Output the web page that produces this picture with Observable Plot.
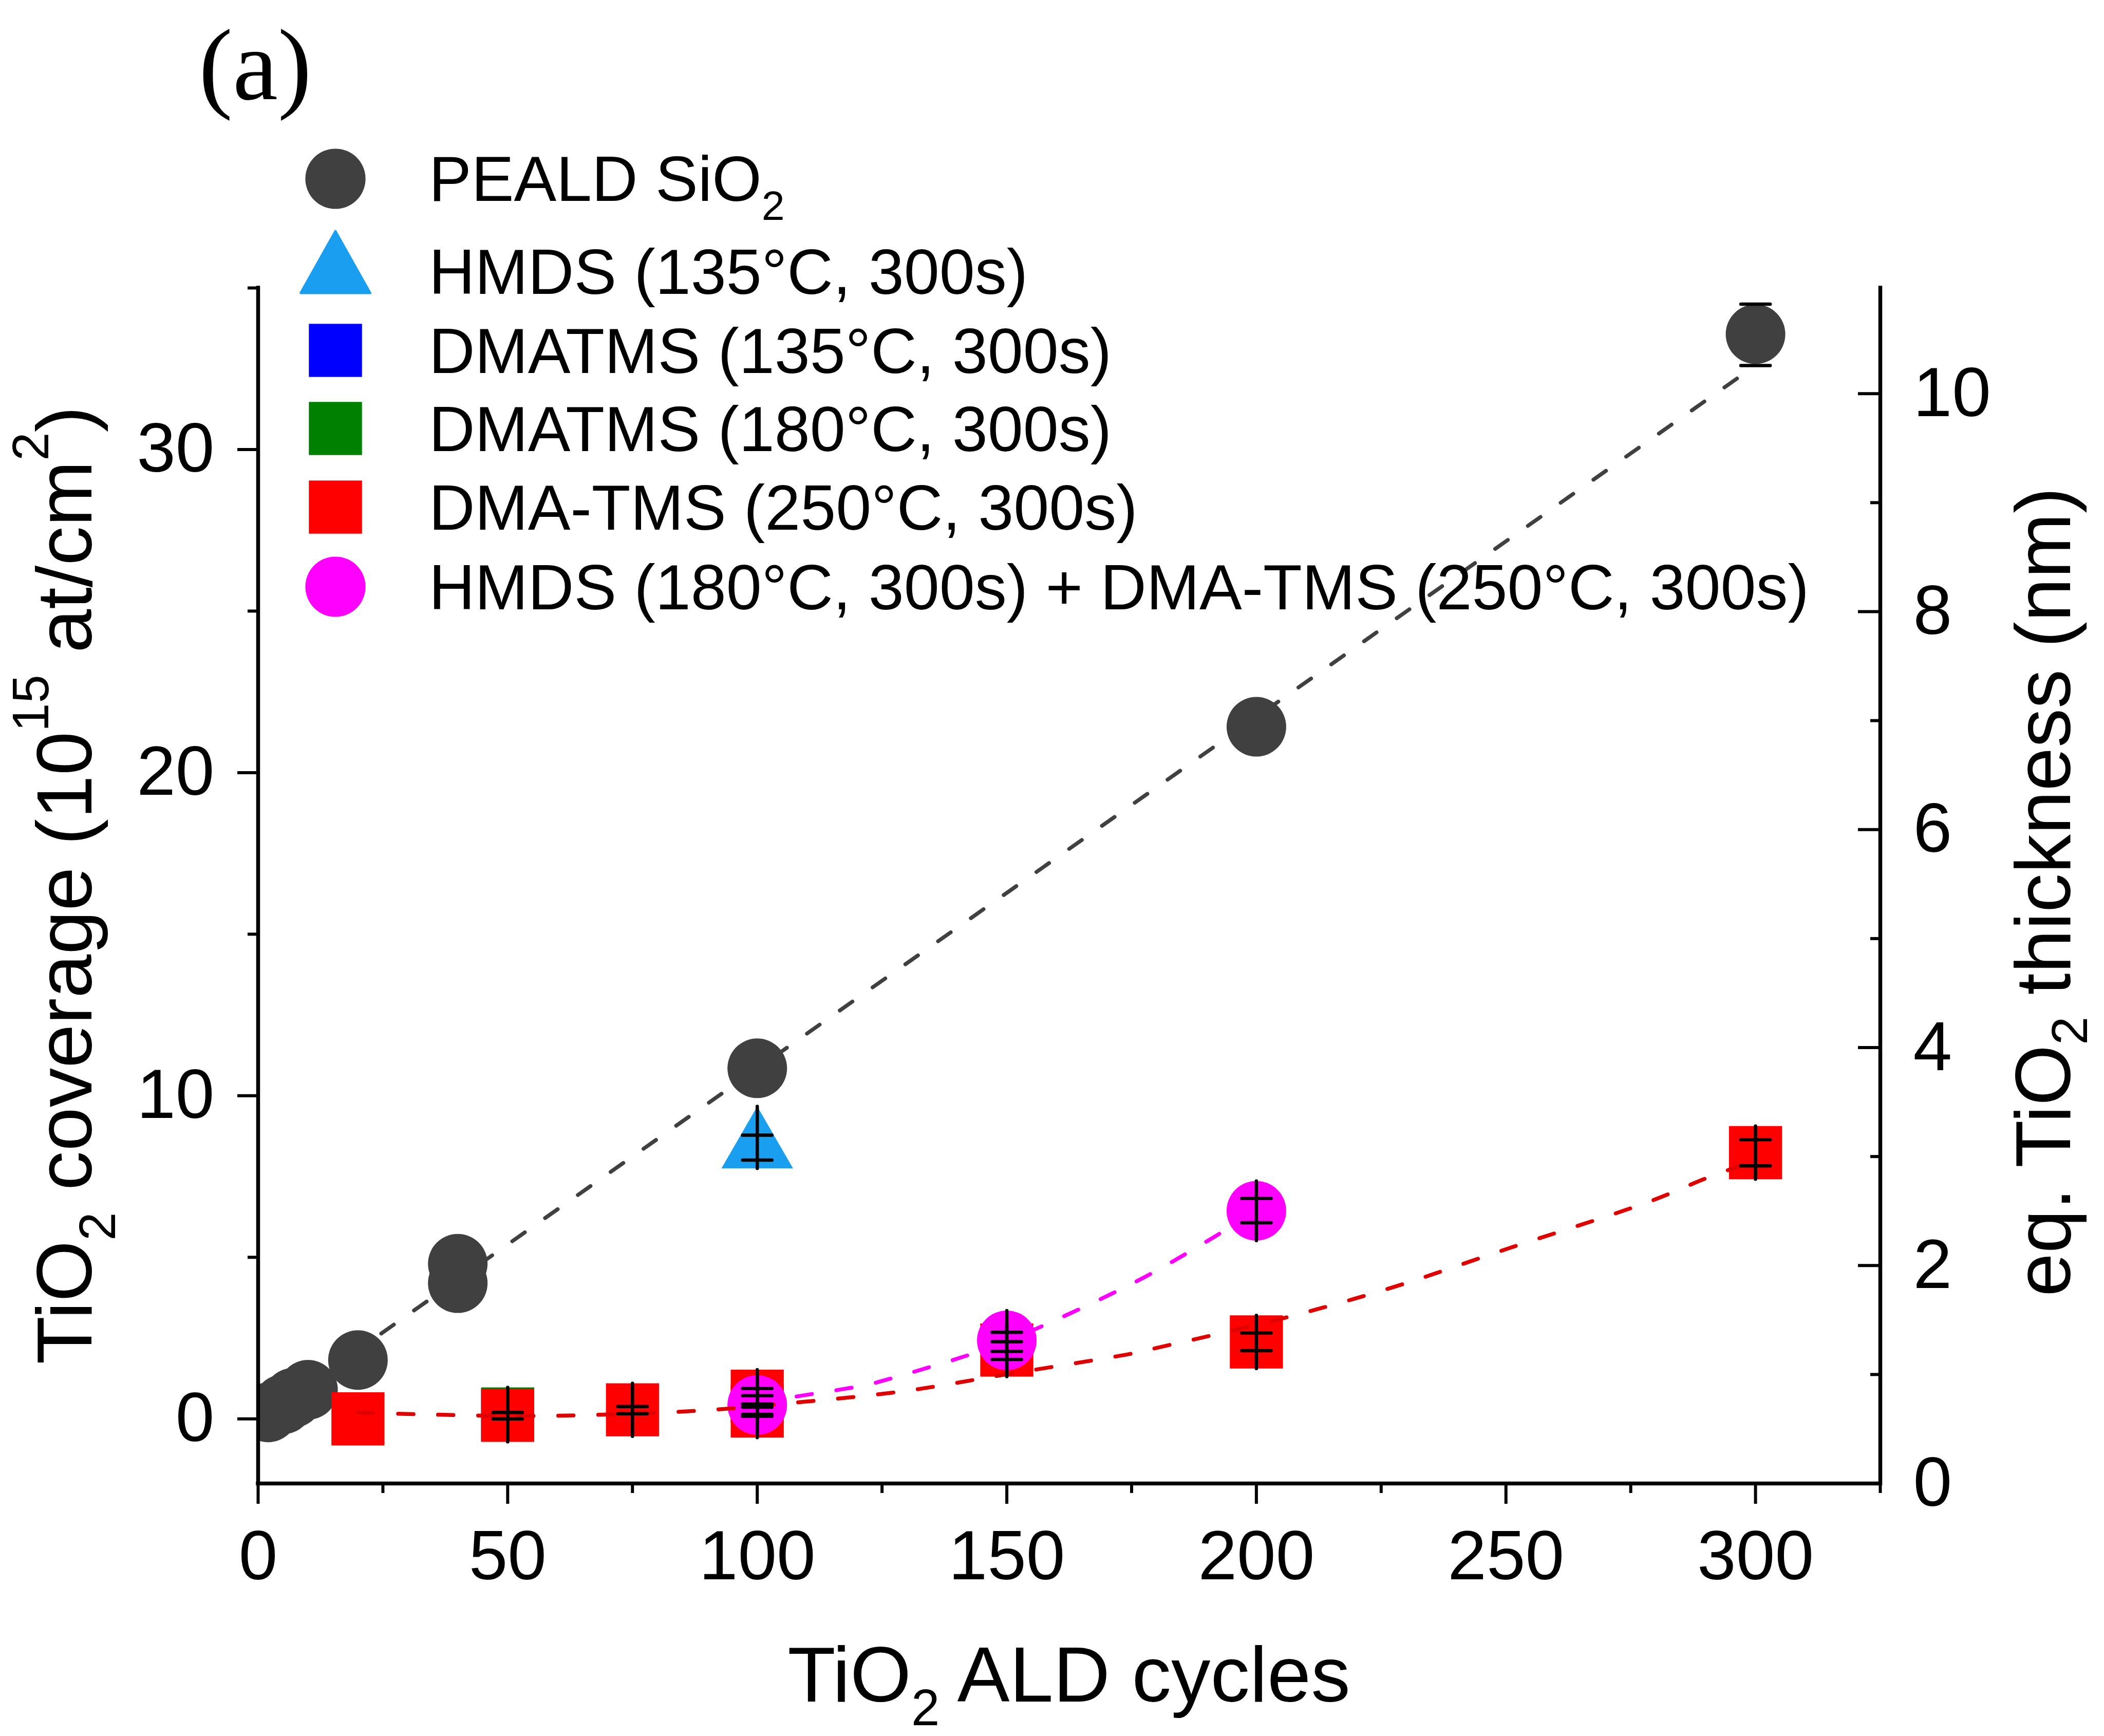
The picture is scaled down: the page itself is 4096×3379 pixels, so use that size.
<!DOCTYPE html>
<html>
<head>
<meta charset="utf-8">
<script src="https://cdn.jsdelivr.net/npm/d3@7"></script>
<script src="https://cdn.jsdelivr.net/npm/@observablehq/plot@0.6"></script>
<style>
  html, body { margin: 0; padding: 0; background: #ffffff; }
  #chart { width: 4096px; height: 3379px; overflow: hidden; }
</style>
</head>
<body>
<div id="chart"></div>
<script>
// ---------------- axes ----------------
const X_DOMAIN = [0, 325];
const Y_DOMAIN = [-2, 35];
const NM_DOMAIN = [0, 10.97];
const xMajor = [0, 50, 100, 150, 200, 250, 300];
const xMinor = [25, 75, 125, 175, 225, 275, 325];
const yMajor = [0, 10, 20, 30];
const yMinor = [5, 15, 25, 35];
const nmMajor = [0, 2, 4, 6, 8, 10];
const nmMinor = [1, 3, 5, 7, 9];

// ---------------- PEALD SiO2 (dark circles) ----------------
const pealdCycles = [2, 5, 7, 10, 20, 40, 40, 100, 200, 300];
const pealdCov    = [0.2, 0.45, 0.65, 0.9, 1.82, 4.8, 4.2, 10.85, 21.42, 33.57];
const pealdErrCycles = [300];
const pealdErrHi = [34.5];
const pealdErrLo = [32.6];
const pealdFitCycles = [5, 100, 200, 300];
const pealdFitCov    = [0.5, 10.84, 21.72, 32.6];

// ---------------- HMDS (135°C, 300s) (triangle) ----------------
const hmdsCycles = [100];
const hmdsCov    = [8.39];
const hmdsErrHi  = [8.78];
const hmdsErrLo  = [8.01];

// ---------------- DMATMS (135°C) blue / (180°C) green ----------------
const dmatms135Cycles = [50];
const dmatms135Cov    = [0.12];
const dmatms180Cycles = [50];
const dmatms180Cov    = [0.15];

// ---------------- DMA-TMS (250°C, 300s) (red squares) ----------------
const dmaCycles = [20, 50, 75, 100, 100, 150, 200, 300];
const dmaCov    = [0.0, 0.11, 0.28, 0.70, 0.24, 2.13, 2.38, 8.24];
const dmaErrHi  = [null, 0.2, 0.38, 0.94, 0.36, 2.39, 2.66, 8.64];
const dmaErrLo  = [null, 0.0, 0.16, 0.46, 0.08, 1.84, 2.11, 7.83];
const dmaFitCycles = [20, 30, 39, 50, 64, 89, 106, 129, 150, 175, 179, 205, 227.5, 250, 279, 290, 300];
const dmaFitCov    = [0.2, 0.15, 0.12, 0.09, 0.11, 0.26, 0.48, 0.85, 1.38, 2.02, 2.16, 3.1, 4.08, 5.25, 6.74, 7.44, 8.0];

// ---------------- HMDS + DMA-TMS (magenta circles) ----------------
const combCycles = [100, 150, 200];
const combCov    = [0.43, 2.43, 6.44];
const combErrHi  = [0.72, 2.68, 6.82];
const combErrLo  = [0.14, 2.09, 6.07];
const combFitCycles = [100, 107, 121.8, 126.3, 142, 150, 176.4, 192.5, 200];
const combFitCov    = [0.48, 0.67, 1.05, 1.23, 1.96, 2.4, 4.29, 5.72, 6.44];

// ---------------- legend ----------------
const legendLabels = [
  ["PEALD SiO", "2", ""],
  ["HMDS (135°C, 300s)"],
  ["DMATMS (135°C, 300s)"],
  ["DMATMS (180°C, 300s)"],
  ["DMA-TMS (250°C, 300s)"],
  ["HMDS (180°C, 300s) + DMA-TMS (250°C, 300s)"]
];
const legendShapes = ["circle", "triangle", "square", "square", "square", "circle"];
const legendColors = ["#404040", "#1a9ff0", "#0000ff", "#008000", "#ff0000", "#ff00ff"];

// ---------------- helpers ----------------
const rows = (xs, ys) => xs.map((x, i) => ({x, y: ys[i]}));
const caps = (xs, hi, lo) => xs.flatMap((x, i) => [
  hi[i] == null ? null : {x, y: hi[i]},
  lo[i] == null ? null : {x, y: lo[i]}
]).filter(d => d);
const nmToCov = d3.scaleLinear().domain(NM_DOMAIN).range(Y_DOMAIN);

const FONT = "'Liberation Sans', Arial, Helvetica, sans-serif";
const TICK_FS = 136;
const SQ_R = 58.3, CIRC_R = 58, TRI_R = 51.8, CAP_R = 32.2;

const capSymbol = {draw(ctx, size) { const w = Math.sqrt(size) / 2; ctx.moveTo(-w, 0); ctx.lineTo(w, 0); }};
const spineSquare = {draw(ctx, size) { const s = Math.sqrt(size) / 2; ctx.moveTo(0, -s); ctx.lineTo(0, s); }};
const spineCircle = {draw(ctx, size) { const r = Math.sqrt(size / Math.PI); ctx.moveTo(0, -r); ctx.lineTo(0, r); }};
const spineTriangle = {draw(ctx, size) { const y = -Math.sqrt(size / (Math.sqrt(3) * 3)); ctx.moveTo(0, 2 * y); ctx.lineTo(0, -y); }};

const dash = {strokeWidth: 7.5, strokeDasharray: "30,48", strokeLinecap: "round", curve: "catmull-rom"};
const bar = {fill: "none", stroke: "black", strokeWidth: 6.5, strokeLinecap: "round"};

const dmaErrRows = rows(dmaCycles, dmaCov).filter((d, i) => dmaErrHi[i] != null);

const plot = Plot.plot({
  width: 4096,
  height: 3379,
  marginLeft: 502,
  marginRight: 436,
  marginTop: 560,
  marginBottom: 492,
  style: {background: "#ffffff", fontFamily: FONT, overflow: "visible"},
  x: {domain: X_DOMAIN, label: null},
  y: {domain: Y_DOMAIN, label: null},
  marks: [
    // markers
    Plot.dot(rows(pealdCycles, pealdCov), {x: "x", y: "y", r: CIRC_R, fill: "#404040", clip: true}),
    Plot.dot(rows(hmdsCycles, hmdsCov), {x: "x", y: "y", r: TRI_R, symbol: "triangle", fill: "#1a9ff0"}),
    Plot.dot(rows(dmatms135Cycles, dmatms135Cov), {x: "x", y: "y", r: SQ_R, symbol: "square", fill: "#0000ff"}),
    Plot.dot(rows(dmatms180Cycles, dmatms180Cov), {x: "x", y: "y", r: SQ_R, symbol: "square", fill: "#008000"}),
    Plot.dot(rows(dmaCycles, dmaCov), {x: "x", y: "y", r: SQ_R, symbol: "square", fill: "#ff0000"}),
    Plot.dot(rows(combCycles, combCov), {x: "x", y: "y", r: CIRC_R, fill: "#ff00ff"}),
    // fit lines
    Plot.line(rows(pealdFitCycles, pealdFitCov), {x: "x", y: "y", stroke: "#404040", ...dash}),
    Plot.line(rows(dmaFitCycles, dmaFitCov), {x: "x", y: "y", stroke: "#e00000", ...dash}),
    Plot.line(rows(combFitCycles, combFitCov), {x: "x", y: "y", stroke: "#ff00ff", ...dash}),
    // error bars
    Plot.dot(rows(dmatms180Cycles, dmatms180Cov), {x: "x", y: "y", r: SQ_R, symbol: spineSquare, ...bar}),
    Plot.dot(dmaErrRows, {x: "x", y: "y", r: SQ_R, symbol: spineSquare, ...bar}),
    Plot.dot(rows(combCycles, combCov), {x: "x", y: "y", r: CIRC_R, symbol: spineCircle, ...bar}),
    Plot.dot(rows(hmdsCycles, hmdsCov), {x: "x", y: "y", r: TRI_R, symbol: spineTriangle, ...bar}),
    Plot.dot(caps(pealdErrCycles, pealdErrHi, pealdErrLo), {x: "x", y: "y", r: CAP_R, symbol: capSymbol, ...bar}),
    Plot.dot(caps(hmdsCycles, hmdsErrHi, hmdsErrLo), {x: "x", y: "y", r: CAP_R, symbol: capSymbol, ...bar}),
    Plot.dot(caps(dmaCycles, dmaErrHi, dmaErrLo), {x: "x", y: "y", r: CAP_R, symbol: capSymbol, ...bar}),
    Plot.dot(caps(combCycles, combErrHi, combErrLo), {x: "x", y: "y", r: CAP_R, symbol: capSymbol, ...bar}),
    // axis lines
    Plot.ruleY([Y_DOMAIN[0]], {stroke: "black", strokeWidth: 7.5, strokeLinecap: "square"}),
    Plot.ruleX([X_DOMAIN[0], X_DOMAIN[1]], {stroke: "black", strokeWidth: 7.5, strokeLinecap: "square"}),
    // x axis
    Plot.axisX(xMajor, {anchor: "bottom", tickSize: 40, tickPadding: 50, tickFormat: d => String(d), fontSize: TICK_FS, fontFamily: FONT, strokeWidth: 6, label: null, fill: "black", stroke: "black"}),
    Plot.axisX(xMinor, {anchor: "bottom", tickSize: 19, tickFormat: () => "", strokeWidth: 6, label: null, stroke: "black"}),
    // left y axis
    Plot.axisY(yMajor, {anchor: "left", tickSize: 40, tickPadding: 45, tickFormat: d => String(d), fontSize: TICK_FS, fontFamily: FONT, strokeWidth: 6, label: null, fill: "black", stroke: "black"}),
    Plot.axisY(yMinor, {anchor: "left", tickSize: 20, tickFormat: () => "", strokeWidth: 6, label: null, stroke: "black"}),
    // right y axis (nm), ticks pointing inward
    Plot.axisY(nmMajor.map(nmToCov), {anchor: "right", tickSize: -44, tickPadding: 108, tickFormat: d => String(Math.round(nmToCov.invert(d))), fontSize: TICK_FS, fontFamily: FONT, strokeWidth: 6, label: null, fill: "black", stroke: "black"}),
    Plot.axisY(nmMinor.map(nmToCov), {anchor: "right", tickSize: -20, tickFormat: () => "", strokeWidth: 6, label: null, stroke: "black"})
  ]
});

document.getElementById("chart").appendChild(plot);

// ---------------- titles and legend (real SVG text) ----------------
const svg = d3.select(plot);
const ann = svg.append("g").attr("font-family", FONT).attr("fill", "black").attr("text-anchor", "start");

function richText(g, parts, subShift = 0.3) {
  let shift = 0;
  for (const [t, kind] of parts) {
    const ts = g.append("tspan").text(t);
    let target = 0;
    if (kind === "sub") { ts.attr("font-size", "65%"); target = subShift; }
    if (kind === "sup") { ts.attr("font-size", "65%"); target = -0.55; }
    const fs = kind === "n" ? 1 : 0.65;
    const d = (target - shift) / fs;
    if (Math.abs(d) > 1e-6) ts.attr("dy", d.toFixed(3) + "em");
    shift = target;
  }
}

// x title
const xt = ann.append("text").attr("x", 2081).attr("y", 3312).attr("text-anchor", "middle").attr("font-size", 153);
richText(xt, [["TiO", "n"], ["2", "sub"], [" ALD cycles", "n"]]);

// left title
const yl = ann.append("text").attr("transform", "translate(178,1723) rotate(-90)").attr("text-anchor", "middle").attr("font-size", 153);
richText(yl, [["TiO", "n"], ["2", "sub"], [" coverage (10", "n"], ["15", "sup"], [" at/cm", "n"], ["2", "sup"], [")", "n"]]);

// right title
const yr = ann.append("text").attr("transform", "translate(4030,1736) rotate(-90)").attr("text-anchor", "middle").attr("font-size", 152);
richText(yr, [["eq. TiO", "n"], ["2", "sub"], [" thickness (nm)", "n"]], 0.22);

// panel label
ann.append("text").attr("x", 387).attr("y", 193).attr("text-anchor", "start").attr("font-family", "'Liberation Serif', 'Times New Roman', serif").attr("font-size", 198).text("(a)");

// legend
const legRowText = [347, 528, 682, 834, 987, 1142];
const legRowMarker = [348, 510, 682, 834, 987, 1142];
const LEG_X = 653, LEG_TX = 835, LEG_FS = 124;
legendLabels.forEach((lab, i) => {
  const cy = legRowMarker[i];
  const shape = legendShapes[i];
  const col = legendColors[i];
  if (shape === "circle") {
    ann.append("circle").attr("cx", LEG_X).attr("cy", cy).attr("r", 58.6).attr("fill", col);
  } else if (shape === "square") {
    ann.append("rect").attr("x", LEG_X - 51.7).attr("y", cy - 51.7).attr("width", 103.4).attr("height", 103.4).attr("fill", col);
  } else {
    ann.append("path").attr("d", `M${LEG_X},${cy - 60.5} L${LEG_X + 68},${cy + 60.5} L${LEG_X - 68},${cy + 60.5} Z`).attr("fill", col).attr("stroke", col).attr("stroke-width", 4).attr("stroke-linejoin", "round");
  }
  const t = ann.append("text").attr("x", LEG_TX).attr("y", legRowText[i] + 44).attr("text-anchor", "start").attr("font-size", LEG_FS);
  if (lab.length === 1) t.text(lab[0]);
  else richText(t, [[lab[0], "n"], [lab[1], "sub"], [lab[2], "n"]]);
});
</script>
</body>
</html>
